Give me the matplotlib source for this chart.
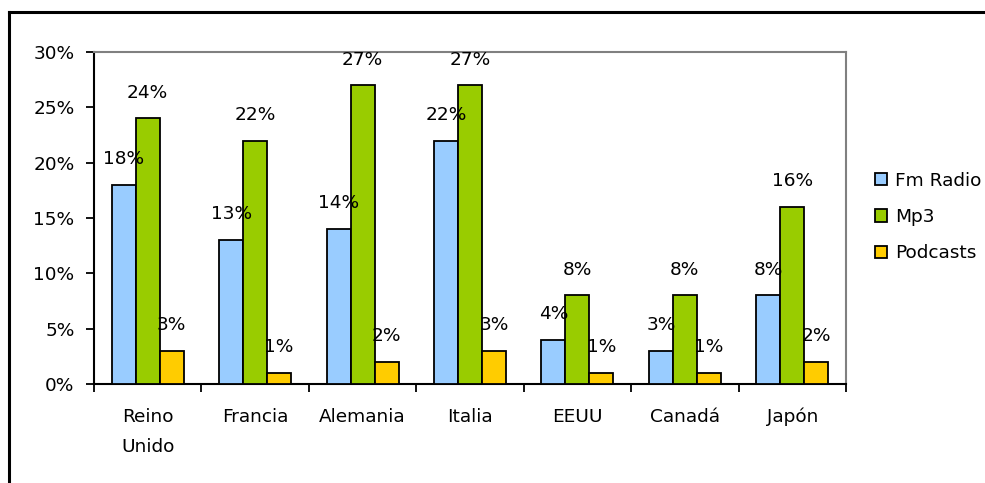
import matplotlib
matplotlib.use("Agg")
import matplotlib.pyplot as plt
from matplotlib.lines import Line2D
from matplotlib.patches import Patch
import numpy as np

categories = ["Reino\nUnido", "Francia", "Alemania", "Italia", "EEUU", "Canadá", "Japón"]
series_names = ["Fm Radio", "Mp3", "Podcasts"]
fm_radio = [18, 13, 14, 22, 4, 3, 8]
mp3 = [24, 22, 27, 27, 8, 8, 16]
podcasts = [3, 1, 2, 3, 1, 1, 2]
colors = ["#99CCFF", "#99CC00", "#FFCC00"]
yticks = [0, 5, 10, 15, 20, 25, 30]

plt.rcParams['font.family'] = ['DejaVu Sans']
FS = 13.3

fig = plt.figure(figsize=(9.85, 4.83), dpi=100)
ax = fig.add_axes([94/985, 1-384/483, (846-94)/985, (384-52)/483])

x = np.arange(len(categories))
w = 0.223
for i, (vals, col, name) in enumerate(zip([fm_radio, mp3, podcasts], colors, series_names)):
    pos = x + (i - 1) * w
    ax.bar(pos, vals, width=w, color=col, edgecolor='black', linewidth=1.3, label=name, zorder=3)
    for p, v in zip(pos, vals):
        ax.annotate(f"{v}%", (p, v), xytext=(0, 18.5), textcoords='offset points',
                    ha='center', va='center', fontsize=FS, zorder=4)

ax.set_xlim(-0.5, len(categories) - 0.5)
ax.set_ylim(0, 30)
ax.set_yticks(yticks)
ax.set_yticklabels([f"{t}%" for t in yticks], fontsize=FS)
ax.set_xticks(x)
ax.set_xticklabels(categories, fontsize=FS, linespacing=1.9, va='top')
ax.set_xticks(np.arange(-0.5, len(categories)), minor=True)
ax.tick_params(axis='x', which='major', length=0, pad=17)
ax.tick_params(axis='x', which='minor', length=6, width=1.3, direction='out')
ax.tick_params(axis='y', length=6, width=1.3, direction='out', pad=8)

for s in ['top', 'right']:
    ax.spines[s].set_color('#808080')
    ax.spines[s].set_linewidth(1.5)
for s in ['left', 'bottom']:
    ax.spines[s].set_color('black')
    ax.spines[s].set_linewidth(1.5)

handles = [Patch(facecolor=c, edgecolor='black', linewidth=1.3) for c in colors]
fig.legend(handles, series_names, loc='center left', bbox_to_anchor=(875/985, 1-217/483),
           frameon=False, fontsize=FS, handlelength=0.65, handleheight=0.65,
           handletextpad=0.45, labelspacing=1.0, borderpad=0, borderaxespad=0)

# outer border (partially cropped)
fig.add_artist(Line2D([9/985, 1.0], [1-12/483, 1-12/483], transform=fig.transFigure, color='black', linewidth=2.2))
fig.add_artist(Line2D([9/985, 9/985], [0, 1-12/483], transform=fig.transFigure, color='black', linewidth=2.2))

fig.savefig("out.png", dpi=100)
